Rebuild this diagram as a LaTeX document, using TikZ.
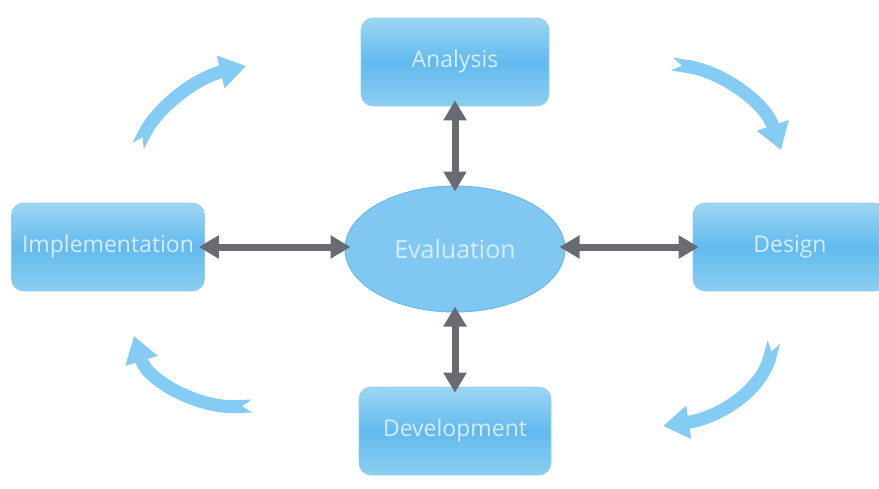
\documentclass[tikz,border=0pt]{standalone}
\usepackage{fontspec}
\setmainfont{Open Sans}
\usetikzlibrary{arrows.meta,shapes.geometric}
\definecolor{boxtop}{RGB}{158,214,243}
\definecolor{boxmid}{RGB}{98,186,238}
\definecolor{boxbot}{RGB}{140,206,241}
\definecolor{ovalfill}{RGB}{128,200,241}
\definecolor{ovaledge}{RGB}{104,186,234}
\definecolor{labelc}{RGB}{214,236,249}
\definecolor{linkc}{RGB}{104,108,114}
\definecolor{cyclec}{RGB}{132,204,244}
\tikzset{
  phase/.style={rectangle, rounded corners=12pt, draw=boxmid!70, line width=0.6pt,
    top color=boxtop, bottom color=boxbot, middle color=boxmid,
    minimum width=188pt, minimum height=88pt, text=labelc,
    font=\fontsize{23}{26}\selectfont, inner sep=0pt},
  hub/.style={ellipse, draw=ovaledge, line width=1pt, fill=ovalfill,
    minimum width=220pt, minimum height=126pt, text=labelc,
    font=\fontsize{25}{28}\selectfont, inner sep=0pt},
  link/.style={draw=linkc, line width=7pt,
    {Triangle[length=20pt,width=22pt]}-{Triangle[length=20pt,width=22pt]},
    shorten <=-6pt, shorten >=-6pt},
  cycle/.style={draw=cyclec, line width=13pt,
    {Triangle Cap[reversed,length=10pt]}-{Triangle[length=26pt,width=32pt]}}
}
\begin{document}
\begin{tikzpicture}[x=1pt,y=-1pt]
  \useasboundingbox (0,0) rectangle (879,488);
  \fill[white] (0,0) rectangle (879,488);
  \begin{scope}
    \clip (0,0) rectangle (879,488);
    % the four phases and the central evaluation
    \node[phase] (analysis) at (455,62) {Analysis};
    \node[phase, minimum width=193pt] (impl) at (108,247) {Implementation};
    \node[phase, minimum width=194pt] (design) at (790,247) {Design};
    \node[phase, minimum width=192pt] (dev) at (455,431) {Development};
    \node[hub] (eval) at (455,249) {Evaluation};

    % two-way links to the centre
    \draw[link] (analysis.south) -- (analysis.south |- eval.north);
    \draw[link] (dev.north) -- (dev.north |- eval.south);
    \draw[link] (impl.east) -- (impl.east -| eval.west);
    \draw[link] (design.west) -- (design.west -| eval.east);

    % clockwise cycle arrows
    \coordinate (c1s) at (138,146); \coordinate (c1e) at (246,66);
    \coordinate (c2s) at (672,64);  \coordinate (c2e) at (781,150);
    \coordinate (c3s) at (774,342); \coordinate (c3e) at (663,426);
    \coordinate (c4s) at (252,406); \coordinate (c4e) at (134,336);
    \draw[cycle] (c1s) .. controls (158,108) and (195,78) .. (c1e);
    \draw[cycle] (c2s) .. controls (722,72) and (765,102) .. (c2e);
    \draw[cycle] (c3s) .. controls (760,392) and (718,418) .. (c3e);
    \draw[cycle] (c4s) .. controls (200,408) and (148,382) .. (c4e);
  \end{scope}
\end{tikzpicture}
\end{document}
